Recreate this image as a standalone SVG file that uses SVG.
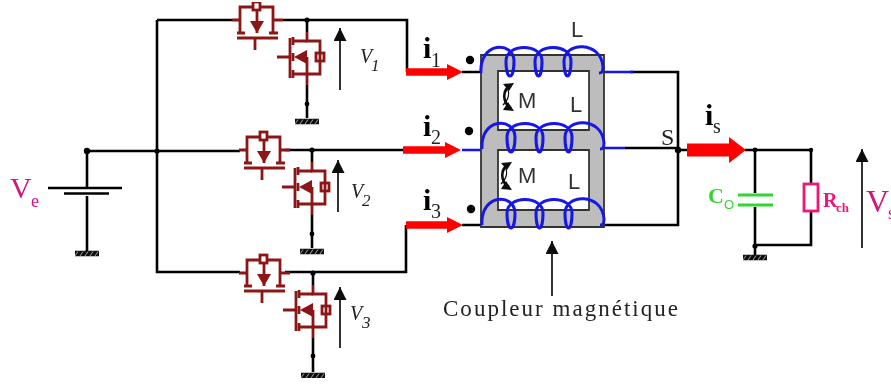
<svg xmlns="http://www.w3.org/2000/svg" width="891" height="390" viewBox="0 0 891 390">
<style>
.w{fill:none;stroke:#000;stroke-width:2.6}
.thin{fill:none;stroke:#111;stroke-width:1.7}
.m{fill:none;stroke:#8c1414;stroke-width:2.8}
.mf{fill:#8c1414;stroke:none}
.c{fill:none;stroke:#1414e6;stroke-width:3}
.b{fill:none;stroke:#1414e6;stroke-width:2.6}
.r{fill:none;stroke:#f00;stroke-width:7.5}
.rf{fill:#f00}
.k{fill:#000}
.i{font-family:"Liberation Serif",serif;fill:#000;font-weight:bold;font-size:30px}
.sub{font-family:"Liberation Serif",serif;fill:#222;font-size:20px}
.a{font-family:"Liberation Sans",sans-serif;fill:#333;font-size:22px}
.v{font-family:"Liberation Serif",serif;font-style:italic;fill:#222;font-size:20px}
.vs{font-family:"Liberation Serif",serif;font-style:italic;fill:#222;font-size:17px}
.p{font-family:"Liberation Serif",serif;fill:#d6127a}
.pk{font-family:"Liberation Serif",serif;fill:#f01878;font-weight:bold}
.g{font-family:"Liberation Serif",serif;fill:#33d633}
</style>
<defs>
<filter id="soft" x="0" y="0" width="100%" height="100%"><feGaussianBlur stdDeviation="0.5"/></filter>
<marker id="ah" markerWidth="13" markerHeight="13" refX="13" refY="6.500" orient="auto" markerUnits="userSpaceOnUse" viewBox="0 0 13 13"><path d="M0 0L13 6.500L0 13Z" fill="#111"/></marker>
<g id="mh">
<path class="m" d="M-23 0H-15V-13H-2M5 -13H18V0H28M-15 0V13M18 0V13"/>
<rect class="m" x="-2" y="-18" width="7" height="8" stroke-width="2.200"/>
<path class="m" d="M-18 13H-10M14 13H23M-18 18H23M0 18V30M2 -10V13"/>
<path class="mf" d="M-5 1H9L2 13Z"/>
</g>
<g id="mv">
<path class="m" d="M0 -25V-16H13V17H0V28M-30 0H-17M0 0V17"/>
<path class="m" d="M-17 -19V21" stroke-width="3.200"/>
<path class="m" d="M-14 -20V-12M-14 -4V4M-14 13V21M-14 -16H0M-14 17H0"/>
<rect class="m" x="9" y="-4" width="8" height="8" stroke-width="2.200"/>
<path class="mf" d="M-13 0L0 -7V7Z"/>
</g>
<g id="gnd">
<path d="M-12 3.500H12" stroke="#111" stroke-width="5.500" fill="none"/>
<path d="M-12 6L-9 1.500M-7 6L-4 1.500M-2 6L1 1.500M3 6L6 1.500M8 6L11 1.500" stroke="#fff" stroke-width="0.6" fill="none"/>
</g>
<path id="coil" d="M0 24C-2 -8 33 -8 33 12C33 32 25 32 25 12C25 -6 61 -6 61 12C61 32 54 32 54 12C54 -6 90 -6 90 12C90 32 83 32 83 12C83 -7 120 -9 122 18C122 24 120 24 118 24"/>
<g id="mutual">
<path d="M11 1C2 6 2 18 11 24" stroke="#111" stroke-width="2.600" fill="none"/>
<path d="M6 1C10 8 10 14 3 21" stroke="#111" stroke-width="1.400" fill="none"/>
<path d="M3 0L14 -1L9 7ZM3 26L14 27L8 18Z" fill="#111"/>
</g>
</defs>
<rect width="891" height="390" fill="#fff"/>
<g filter="url(#soft)">
<g id="connectors">
<path class="w" d="M283 20H407V72M157 20H232M157 20V272H240M87 151H240M285 150H403M285 272H406V225"/>
<path class="w" d="M307 20V32M307 85V118M312 150V162M312 215V248M313 273V285M313 338V372"/>
<path class="w" d="M87 151V187M87 196V251"/>
<path class="w" d="M462 72H482M462 225H482M604 225H678V72H630M625 148H678"/>
<path class="b" d="M604 72H633M462 150H482M604 148H625"/>
<path class="w" d="M678 150H690M745 150H811V184M811 211V245H755M755 150V193M755 207V255"/>
<circle class="k" cx="87" cy="151" r="3.200"/><circle class="k" cx="157" cy="151" r="2.600"/>
<circle class="k" cx="307" cy="20" r="2.600"/><circle class="k" cx="312" cy="150" r="2.600"/><circle class="k" cx="313" cy="273" r="2.600"/>
<circle class="k" cx="307" cy="104" r="2.400"/><circle class="k" cx="312" cy="234" r="2.400"/><circle class="k" cx="313" cy="356" r="2.400"/>
<circle class="k" cx="678" cy="150" r="3.200"/><circle class="k" cx="755" cy="150" r="2.400"/><circle class="k" cx="811" cy="150" r="2.200"/><circle class="k" cx="755" cy="246" r="2.600"/>
</g>
<g id="voltage-arrows">
<path class="thin" marker-end="url(#ah)" d="M340 90V28"/>
<path class="thin" marker-end="url(#ah)" d="M338 212V160"/>
<path class="thin" marker-end="url(#ah)" d="M340 348V287"/>
<path class="thin" marker-end="url(#ah)" d="M862 248V149"/>
<path class="thin" marker-end="url(#ah)" d="M552 296V241"/>
</g>
<g id="source">
<path class="w" d="M48 188H122" stroke-width="3"/>
<path class="w" d="M64 193.500H109"/>
<use href="#gnd" x="87" y="250"/>
<text class="p" x="10" y="198" font-size="30">V</text>
<text class="p" x="31" y="207" font-size="18">e</text>
</g>
<g id="switch-1"><use href="#mh" x="255" y="20"/><use href="#mv" x="307" y="57"/><use href="#gnd" x="307" y="118"/>
<text class="v" x="360" y="63">V</text><text class="vs" x="371" y="71">1</text></g>
<g id="switch-2"><use href="#mh" x="262" y="150"/><use href="#mv" x="312" y="187"/><use href="#gnd" x="312" y="248"/>
<text class="v" x="351" y="198">V</text><text class="vs" x="362" y="206">2</text></g>
<g id="switch-3"><use href="#mh" x="262" y="273"/><use href="#mv" x="313" y="310"/><use href="#gnd" x="313" y="372"/>
<text class="v" x="350" y="320">V</text><text class="vs" x="362" y="328">3</text></g>
<g id="currents">
<path class="r" d="M406 72H449"/><path class="rf" d="M447 64L463 72L447 80Z"/>
<path class="r" d="M403 150H447"/><path class="rf" d="M445 142L461 150L445 158Z"/>
<path class="r" d="M406 225H449"/><path class="rf" d="M447 217L463 225L447 233Z"/>
<path d="M687 150H731" stroke="#f00" stroke-width="13" fill="none"/><path class="rf" d="M729 137L746 150L729 163Z"/>
<text class="i" x="423" y="58">i</text><text class="sub" x="431" y="67">1</text>
<text class="i" x="423" y="136">i</text><text class="sub" x="431" y="144">2</text>
<text class="i" x="423" y="210">i</text><text class="sub" x="431" y="218">3</text>
<text class="i" x="705" y="125">i</text><text class="sub" x="713" y="133">s</text>
<text class="sub" x="661" y="145" style="font-size:24px">S</text>
</g>
<g id="coupler">
<path fill="#bdbdbd" fill-rule="evenodd" stroke="#333" stroke-width="1.800" d="M481 55H604V227H481ZM498 71V130H589V71ZM498 150V210H589V150Z"/>
<use href="#coil" class="c" x="481" y="49"/>
<use href="#coil" class="c" x="482" y="125"/>
<use href="#coil" class="c" x="482" y="201"/>
<circle class="k" cx="470" cy="60" r="4.200"/><circle class="k" cx="469" cy="131" r="4.200"/><circle class="k" cx="471" cy="209" r="4.200"/>
<text class="a" x="571" y="37">L</text><text class="a" x="570" y="112">L</text><text class="a" x="568" y="189">L</text>
<text class="a" x="518" y="108">M</text><text class="a" x="518" y="183">M</text>
<use href="#mutual" x="500" y="84"/>
<use href="#mutual" x="498" y="163"/>
</g>
<g id="capacitor">
<path d="M738 195H773M738 205H773" stroke="#33d633" stroke-width="3" fill="none"/>
<text class="g" x="708" y="203" font-size="22" font-weight="bold">C</text>
<text x="724" y="209" font-size="13" font-family="Liberation Sans, sans-serif" fill="#33d633">O</text>
<use href="#gnd" x="755" y="254"/>
</g>
<g id="load">
<rect x="804" y="184" width="14" height="27" fill="#fff" stroke="#f01878" stroke-width="2.800"/>
<text class="pk" x="823" y="207" font-size="20">R</text>
<text class="pk" x="836" y="212" font-size="13">ch</text>
<text class="p" x="866" y="212" font-size="32">V</text>
<text class="p" x="888" y="219" font-size="18">s</text>
</g>
<text id="coupler-label" x="443" y="316" font-family="Liberation Serif, serif" font-size="23" fill="#222" textLength="235">Coupleur magnétique</text>
</g>
</svg>
